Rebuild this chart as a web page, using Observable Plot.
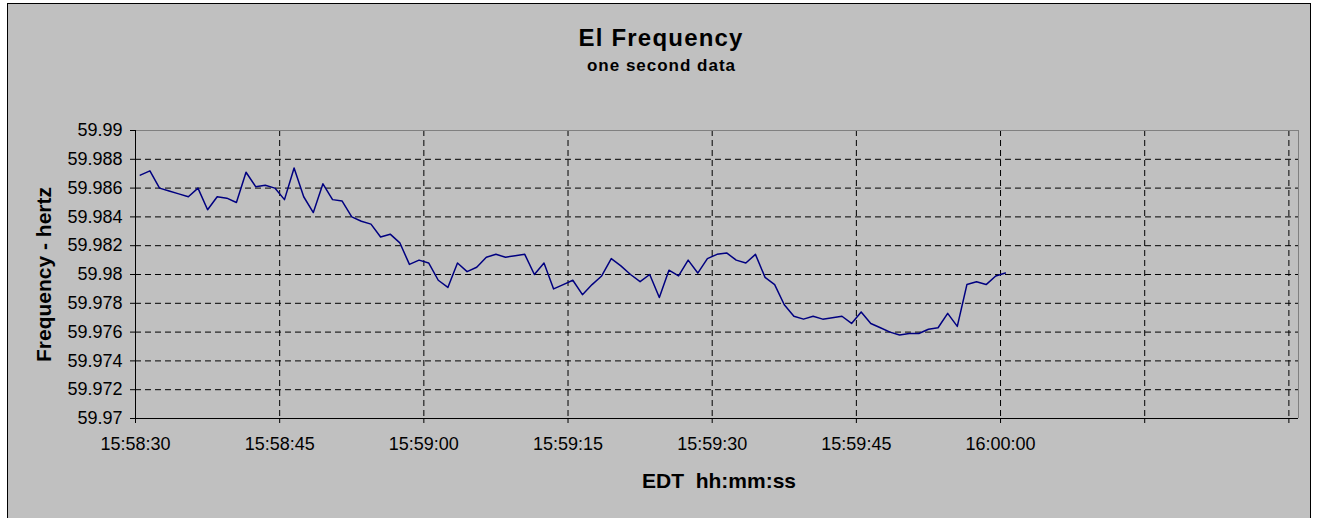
<!DOCTYPE html>
<html>
<head>
<meta charset="utf-8">
<script src="https://cdn.jsdelivr.net/npm/d3@7"></script>
<script src="https://cdn.jsdelivr.net/npm/@observablehq/plot@0.6"></script>
<style>
html, body { margin: 0; padding: 0; background: #fff; overflow: hidden; width: 1317px; height: 518px; }
#box { position: absolute; left: 7px; top: 3px; width: 1304px; height: 515px; box-sizing: border-box;
  border: 1px solid #000; border-bottom: none; background: #c0c0c0;
  font-family: "Liberation Sans", Arial, sans-serif; color: #000; }
#head { position: relative; height: 96px; }
#title { position: absolute; left: 653.1px; top: 22.4px; transform: translateX(-50%);
  font-size: 24px; line-height: 24px; font-weight: bold; letter-spacing: 1.2px; white-space: nowrap; }
#subtitle { position: absolute; left: 653.5px; top: 53.3px; transform: translateX(-50%);
  font-size: 17px; line-height: 17px; font-weight: bold; letter-spacing: 1px; white-space: nowrap; }
svg text { white-space: pre; }
</style>
</head>
<body>
<div id="box">
  <div id="head">
    <div id="title">El Frequency</div>
    <div id="subtitle">one second data</div>
  </div>
</div>
<script>
// ---- data ----
const startTime = "15:58:30.5";   // first sample, one sample per second
const freq = [
  59.9869, 59.9872, 59.9860, 59.9858, 59.9856, 59.9854, 59.9860, 59.9845, 59.9854, 59.9853,
  59.9850, 59.9871, 59.9861, 59.9862, 59.9860, 59.9852, 59.9874, 59.9854, 59.9843, 59.9863,
  59.9852, 59.9851, 59.9840, 59.9837, 59.9835, 59.9826, 59.9828, 59.9822, 59.9807, 59.9810,
  59.9808, 59.9796, 59.9791, 59.9808, 59.9802, 59.9805, 59.9812, 59.9814, 59.9812, 59.9813,
  59.9814, 59.9800, 59.9808, 59.9790, 59.9793, 59.9796, 59.9786, 59.9793, 59.9799, 59.9811,
  59.9806, 59.9800, 59.9795, 59.9800, 59.9784, 59.9803, 59.9799, 59.9810, 59.9801, 59.9811,
  59.9814, 59.9815, 59.9810, 59.9808, 59.9814, 59.9798, 59.9793, 59.9779, 59.9771, 59.9769,
  59.9771, 59.9769, 59.9770, 59.9771, 59.9766, 59.9774, 59.9766, 59.9763, 59.9760, 59.9758,
  59.9759, 59.9759, 59.9762, 59.9763, 59.9773, 59.9764, 59.9793, 59.9795, 59.9793, 59.9799,
  59.9801
];
const xTickTimes = ["15:58:30", "15:58:45", "15:59:00", "15:59:15", "15:59:30", "15:59:45", "16:00:00", "16:00:15", "16:00:30"];
const xTickLabels = ["15:58:30", "15:58:45", "15:59:00", "15:59:15", "15:59:30", "15:59:45", "16:00:00", "", ""];
const xDomain = ["15:58:30", "16:00:31"];
const yTicks = [59.97, 59.972, 59.974, 59.976, 59.978, 59.98, 59.982, 59.984, 59.986, 59.988, 59.99];
const yTickLabels = ["59.97", "59.972", "59.974", "59.976", "59.978", "59.98", "59.982", "59.984", "59.986", "59.988", "59.99"];
const yDomain = [59.97, 59.99];

// ---- helpers ----
function toTime(s) {
  const [h, m, sec] = s.split(":");
  const whole = Math.floor(+sec);
  const ms = Math.round((+sec - whole) * 1000);
  return new Date(Date.UTC(2000, 0, 1, +h, +m, whole, ms));
}
const t0 = toTime(startTime);
const data = freq.map((f, i) => ({t: new Date(+t0 + i * 1000), f}));
const xTicks = xTickTimes.map(toTime);
const xd = xDomain.map(toTime);

const chart = Plot.plot({
  width: 1302,
  height: 418,
  marginLeft: 127,
  marginRight: 12,
  marginTop: 30,
  marginBottom: 100,
  style: {background: "transparent", fontFamily: "'Liberation Sans', Arial, sans-serif", fontSize: "18px", color: "#000", overflow: "visible"},
  x: {type: "utc", domain: xd, label: null},
  y: {domain: yDomain, label: null},
  marks: [
    Plot.gridY(yTicks.slice(1, -1), {stroke: "#000", strokeOpacity: 1, strokeDasharray: "6,4"}),
    Plot.gridX(xTicks.slice(1), {stroke: "#000", strokeOpacity: 1, strokeDasharray: "6,4"}),
    Plot.ruleY([yDomain[1]], {stroke: "#808080"}),
    Plot.ruleX([xd[1]], {stroke: "#808080"}),
    Plot.ruleX([xd[0]], {stroke: "#000"}),
    Plot.ruleY([yDomain[0]], {stroke: "#000"}),
    Plot.line(data, {x: "t", y: "f", stroke: "#000080", strokeWidth: 1.5}),
    Plot.axisX({ticks: xTicks, tickSize: 5, tickPadding: 13.5,
      tickFormat: d => xTickLabels[xTicks.findIndex(t => +t === +d)], label: null}),
    Plot.axisY({ticks: yTicks, tickSize: 5, tickPadding: 8,
      tickFormat: d => yTickLabels[yTicks.findIndex(v => Math.abs(v - d) < 1e-9)], label: null}),
    Plot.text(["Frequency - hertz"], {text: d => d, frameAnchor: "left", rotate: -90, dx: -85,
      textAnchor: "middle", lineAnchor: "bottom", fontSize: 21, fontWeight: "bold"}),
    Plot.text(["EDT  hh:mm:ss"], {text: d => d, frameAnchor: "bottom", dy: 69.3, dx: 2,
      textAnchor: "middle", lineAnchor: "bottom", fontSize: 21, fontWeight: "bold"})
  ]
});
document.getElementById("box").appendChild(chart);
</script>
</body>
</html>
